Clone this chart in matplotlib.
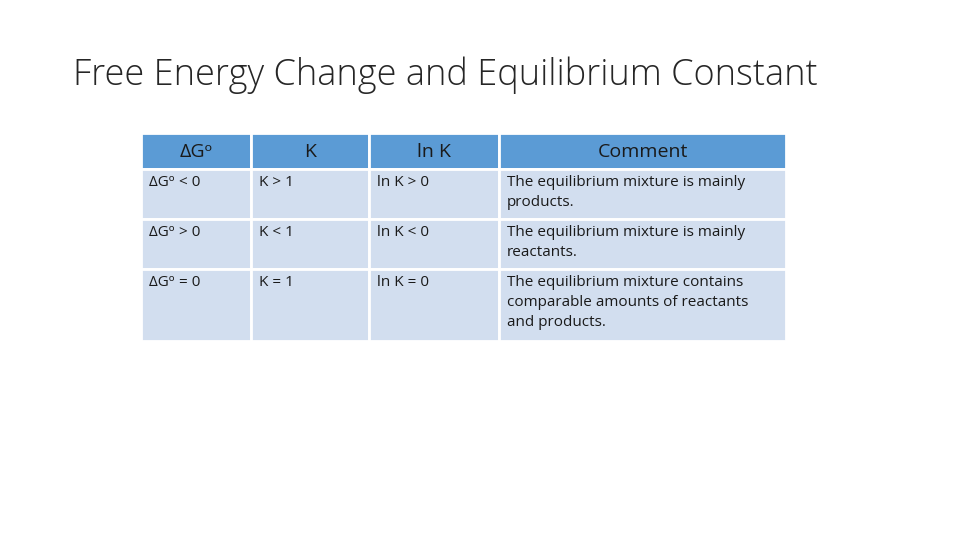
import matplotlib
matplotlib.use("Agg")
import matplotlib.pyplot as plt
from matplotlib.patches import Rectangle

title = "Free Energy Change and Equilibrium Constant"
headers = ["ΔGᵒ", "K", "ln K", "Comment"]
col1 = ["ΔGᵒ < 0", "ΔGᵒ > 0", "ΔGᵒ = 0"]
col2 = ["K > 1", "K < 1", "K = 1"]
col3 = ["ln K > 0", "ln K < 0", "ln K = 0"]
col4 = ["The equilibrium mixture is mainly\nproducts.",
        "The equilibrium mixture is mainly\nreactants.",
        "The equilibrium mixture contains\ncomparable amounts of reactants\nand products."]

col_edges = [141, 251, 369, 499, 786]
row_edges = [133, 169, 219, 269, 341]
hdr_color = "#5B9BD5"
row_color = "#D2DEEF"
font = ["Open Sans", "DejaVu Sans"]

fig = plt.figure(figsize=(9.6, 5.4), dpi=100)
ax = fig.add_axes([0, 0, 1, 1])
ax.set_xlim(0, 960)
ax.set_ylim(540, 0)
ax.axis("off")

ax.text(73, 75, title, fontsize=26, family=font, fontweight="light",
        color="#262626", va="center", ha="left")

rows = list(zip(col1, col2, col3, col4))
for r in range(len(row_edges) - 1):
    y0, y1 = row_edges[r], row_edges[r + 1]
    for c in range(4):
        x0, x1 = col_edges[c], col_edges[c + 1]
        ax.add_patch(Rectangle((x0, y0), x1 - x0, y1 - y0,
                               facecolor=hdr_color if r == 0 else row_color,
                               edgecolor="white", linewidth=2))
        if r == 0:
            ax.text((x0 + x1) / 2, (y0 + y1) / 2 + 1, headers[c], fontsize=14,
                    family=font, color="#1a1a1a", ha="center", va="center",
                    fontweight="medium")
        else:
            txt = rows[r - 1][c]
            ax.text(x0 + 8, y0 + 6, txt, fontsize=11, family=font,
                    color="#1a1a1a", ha="left", va="top", linespacing=1.45)

fig.savefig("out.png", dpi=100, facecolor="white")
